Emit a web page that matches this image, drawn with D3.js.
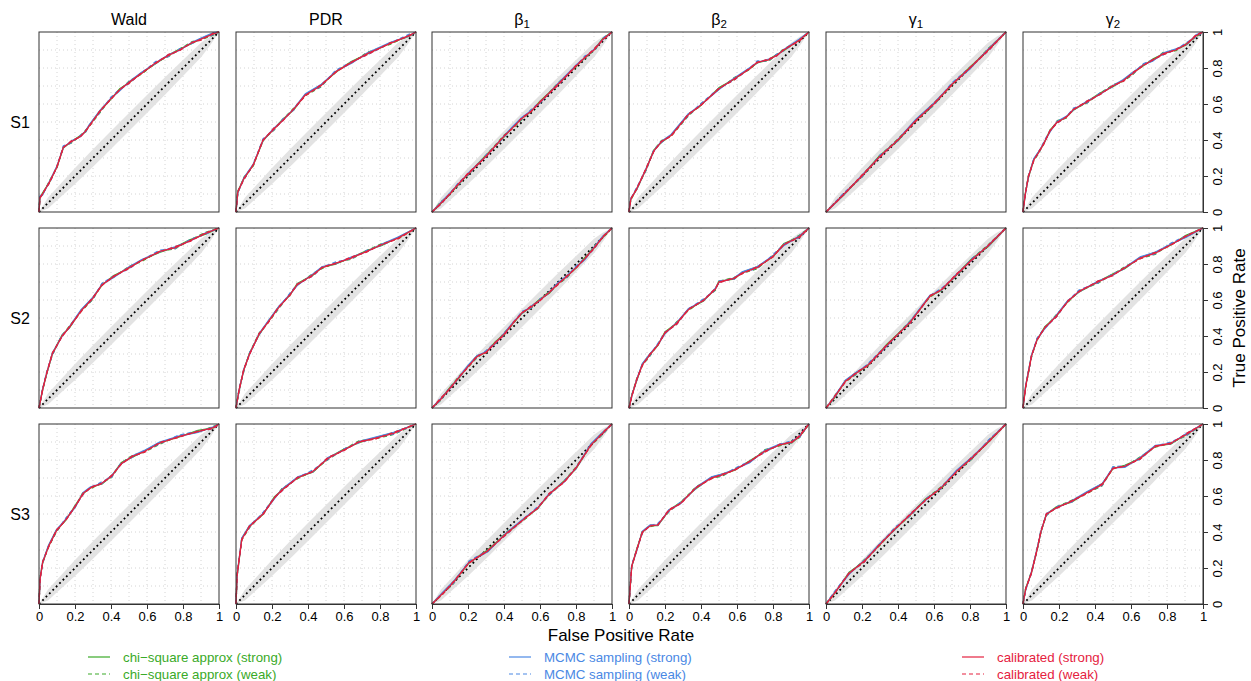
<!DOCTYPE html>
<html><head><meta charset="utf-8">
<script src="https://cdn.jsdelivr.net/npm/d3@7"></script>
<style>
html,body{margin:0;padding:0;background:#fff;}
svg{display:block;font-family:"Liberation Sans",Arial,Helvetica,sans-serif;}
</style></head>
<body>
<svg id="chart" width="1251" height="681"></svg>
<script>
// ---------------- DATA ----------------
const columns = [
  {name:"Wald"}, {name:"PDR"}, {name:"β", sub:"1"}, {name:"β", sub:"2"}, {name:"γ", sub:"1"}, {name:"γ", sub:"2"}
];
const rows = ["S1","S2","S3"];
const tickValues = [0,0.2,0.4,0.6,0.8,1];
const tickLabels = ["0","0.2","0.4","0.6","0.8","1"];
const gridValues = [0.1,0.2,0.3,0.4,0.5,0.6,0.7,0.8,0.9];

// null band (grey) around the diagonal
const bandX  = [0,0.05,0.1,0.2,0.3,0.4,0.5,0.6,0.7,0.8,0.9,0.95,1];
const bandLo = [0,0.02,0.065,0.155,0.252,0.35,0.45,0.55,0.652,0.755,0.86,0.925,1];
const bandHi = [0,0.08,0.135,0.245,0.348,0.45,0.55,0.65,0.748,0.845,0.94,0.975,1];

// ROC curves [FPR, TPR]
const roc_S1_Wald = [[0,0],[0.005,0.08],[0.02,0.1],[0.06,0.17],[0.1,0.25],[0.135,0.36],[0.18,0.39],[0.23,0.42],[0.26,0.45],[0.28,0.48],[0.34,0.56],[0.4,0.63],[0.45,0.68],[0.5,0.72],[0.57,0.77],[0.65,0.83],[0.72,0.87],[0.78,0.90],[0.85,0.94],[0.9,0.96],[0.97,0.99],[1,1]];
const roc_S1_PDR = [[0,0],[0.01,0.11],[0.043,0.185],[0.096,0.26],[0.15,0.40],[0.21,0.46],[0.26,0.51],[0.32,0.57],[0.385,0.65],[0.47,0.70],[0.555,0.78],[0.64,0.83],[0.73,0.88],[0.855,0.935],[0.96,0.98],[1,1]];
const roc_S1_b1 = [[0,0],[0.05,0.05],[0.1,0.1],[0.15,0.16],[0.2,0.21],[0.3,0.31],[0.4,0.42],[0.45,0.47],[0.5,0.52],[0.55,0.56],[0.6,0.61],[0.7,0.71],[0.8,0.81],[0.85,0.86],[0.9,0.9],[0.95,0.96],[1,1]];
const roc_S1_b2 = [[0,0],[0.01,0.07],[0.043,0.13],[0.096,0.24],[0.138,0.34],[0.18,0.39],[0.234,0.425],[0.33,0.54],[0.394,0.59],[0.5,0.685],[0.585,0.74],[0.67,0.795],[0.713,0.833],[0.776,0.845],[0.82,0.87],[0.86,0.9],[0.947,0.955],[1,1]];
const roc_S1_g1 = [[0,0],[0.1,0.1],[0.2,0.2],[0.3,0.31],[0.4,0.4],[0.5,0.51],[0.6,0.6],[0.7,0.71],[0.8,0.8],[0.9,0.9],[1,1]];
const roc_S1_g2 = [[0,0],[0.004,0.03],[0.013,0.10],[0.03,0.195],[0.06,0.29],[0.087,0.33],[0.115,0.38],[0.15,0.45],[0.19,0.50],[0.24,0.525],[0.28,0.57],[0.354,0.61],[0.43,0.657],[0.5,0.70],[0.557,0.73],[0.61,0.77],[0.667,0.815],[0.72,0.843],[0.78,0.88],[0.85,0.9],[0.91,0.935],[0.963,0.98],[1,1]];
const roc_S2_Wald = [[0,0],[0.02,0.10],[0.043,0.195],[0.074,0.30],[0.128,0.40],[0.17,0.45],[0.234,0.54],[0.3,0.61],[0.35,0.685],[0.415,0.73],[0.5,0.78],[0.564,0.815],[0.67,0.87],[0.755,0.89],[0.84,0.93],[0.926,0.97],[1,1]];
const roc_S2_PDR = [[0,0],[0.017,0.10],[0.043,0.21],[0.075,0.30],[0.128,0.41],[0.18,0.48],[0.235,0.555],[0.3,0.63],[0.34,0.685],[0.427,0.74],[0.48,0.78],[0.555,0.805],[0.64,0.833],[0.726,0.87],[0.81,0.907],[0.9,0.944],[1,1]];
const roc_S2_b1 = [[0,0],[0.05,0.05],[0.1,0.11],[0.15,0.17],[0.2,0.23],[0.25,0.285],[0.3,0.31],[0.35,0.36],[0.4,0.41],[0.45,0.47],[0.5,0.53],[0.55,0.56],[0.6,0.6],[0.65,0.64],[0.7,0.69],[0.75,0.73],[0.8,0.78],[0.85,0.83],[0.9,0.89],[0.95,0.95],[1,1]];
const roc_S2_b2 = [[0,0],[0.015,0.065],[0.043,0.157],[0.074,0.24],[0.117,0.296],[0.16,0.35],[0.2,0.417],[0.266,0.472],[0.33,0.546],[0.415,0.60],[0.48,0.66],[0.5,0.70],[0.585,0.72],[0.628,0.75],[0.713,0.78],[0.8,0.843],[0.86,0.907],[0.947,0.953],[1,1]];
const roc_S2_g1 = [[0,0],[0.043,0.055],[0.107,0.148],[0.17,0.194],[0.235,0.24],[0.34,0.35],[0.47,0.48],[0.577,0.62],[0.64,0.657],[0.726,0.74],[0.81,0.824],[0.9,0.9],[1,1]];
const roc_S2_g2 = [[0,0],[0.015,0.12],[0.047,0.287],[0.078,0.38],[0.12,0.444],[0.184,0.51],[0.248,0.59],[0.31,0.648],[0.417,0.70],[0.5,0.74],[0.565,0.778],[0.65,0.833],[0.735,0.86],[0.82,0.907],[0.905,0.953],[1,1]];
const roc_S3_Wald = [[0,0],[0.006,0.14],[0.02,0.23],[0.053,0.32],[0.096,0.405],[0.15,0.47],[0.2,0.54],[0.245,0.615],[0.287,0.645],[0.35,0.672],[0.404,0.71],[0.457,0.78],[0.52,0.82],[0.585,0.847],[0.67,0.893],[0.776,0.93],[0.883,0.958],[0.968,0.98],[1,1]];
const roc_S3_PDR = [[0,0],[0.006,0.157],[0.032,0.36],[0.075,0.43],[0.15,0.50],[0.214,0.59],[0.256,0.635],[0.342,0.70],[0.427,0.737],[0.513,0.81],[0.6,0.856],[0.684,0.90],[0.77,0.92],[0.876,0.948],[1,1]];
const roc_S3_b1 = [[0,0],[0.06,0.06],[0.12,0.12],[0.205,0.23],[0.31,0.295],[0.417,0.396],[0.523,0.48],[0.587,0.534],[0.65,0.608],[0.735,0.68],[0.8,0.755],[0.883,0.884],[0.95,0.95],[1,1]];
const roc_S3_b2 = [[0,0],[0.006,0.083],[0.015,0.21],[0.043,0.30],[0.074,0.40],[0.117,0.433],[0.16,0.44],[0.223,0.52],[0.287,0.56],[0.372,0.645],[0.457,0.70],[0.52,0.717],[0.585,0.745],[0.67,0.79],[0.755,0.85],[0.84,0.884],[0.904,0.90],[0.947,0.93],[1,1]];
const roc_S3_g1 = [[0,0],[0.043,0.055],[0.128,0.17],[0.214,0.24],[0.3,0.33],[0.385,0.42],[0.47,0.497],[0.555,0.58],[0.64,0.645],[0.726,0.737],[0.81,0.81],[0.9,0.9],[1,1]];
const roc_S3_g2 = [[0,0],[0.015,0.083],[0.047,0.175],[0.078,0.30],[0.1,0.405],[0.13,0.497],[0.184,0.534],[0.27,0.57],[0.354,0.617],[0.44,0.663],[0.5,0.755],[0.565,0.764],[0.65,0.81],[0.735,0.875],[0.82,0.893],[0.905,0.94],[1,1]];

const panelData = [
  [roc_S1_Wald, roc_S1_PDR, roc_S1_b1, roc_S1_b2, roc_S1_g1, roc_S1_g2],
  [roc_S2_Wald, roc_S2_PDR, roc_S2_b1, roc_S2_b2, roc_S2_g1, roc_S2_g2],
  [roc_S3_Wald, roc_S3_PDR, roc_S3_b1, roc_S3_b2, roc_S3_g1, roc_S3_g2]
];

// series and their small deviations from the shared curve (TPR offsets)
const seriesNames = ["chi\u2212square approx (strong)","chi\u2212square approx (weak)","MCMC sampling (strong)","MCMC sampling (weak)","calibrated (strong)","calibrated (weak)"];
const seriesOffsets = [
  [0.004,-0.003,0.006,-0.002,0.003,-0.005,0.002,0.005,-0.004,0.003],
  [-0.006,0.005,-0.003,0.007,-0.004,0.002,-0.006,0.004,0.006,-0.003],
  [0.006,0.002,-0.005,0.004,0.006,-0.003,0.005,-0.002,0.003,0.006],
  [-0.004,0.008,0.003,-0.006,0.002,0.007,-0.005,0.006,-0.004,0.002],
  [0,0,0,0,0,0,0,0,0,0],
  [0.005,-0.004,0.003,-0.006,0.004,-0.003,0.006,-0.004,0.003,-0.005]
];

// ---------------- STYLE ----------------
const seriesColor = ["#3aaa28","#3aaa28","#4a88e4","#4a88e4","#e5213e","#e5213e"];
const seriesDash  = [null,"4,3",null,"4,3",null,"4,3"];

const P = 180;              // panel size
const colLeft = [39,236,432,629,826,1023];
const rowTop = [32,228,424];

const svg = d3.select("#chart");
const x = d3.scaleLinear().domain([0,1]).range([0,P]);
const y = d3.scaleLinear().domain([0,1]).range([P,0]);

const line = d3.line().x(d=>x(d[0])).y(d=>y(d[1]));
const area = d3.area().x(d=>x(d.x)).y0(d=>y(d.lo)).y1(d=>y(d.hi));
const bandData = bandX.map((v,i)=>({x:v, lo:bandLo[i], hi:bandHi[i]}));

rows.forEach((rname, ri) => {
  columns.forEach((col, ci) => {
    const g = svg.append("g").attr("transform",`translate(${colLeft[ci]},${rowTop[ri]})`);
    // grid
    g.selectAll("line.gx").data(gridValues).join("line")
      .attr("x1",d=>x(d)).attr("x2",d=>x(d)).attr("y1",0).attr("y2",P)
      .attr("stroke","#cfcfcf").attr("stroke-width",0.9).attr("stroke-dasharray","1,3");
    g.selectAll("line.gy").data(gridValues).join("line")
      .attr("y1",d=>y(d)).attr("y2",d=>y(d)).attr("x1",0).attr("x2",P)
      .attr("stroke","#cfcfcf").attr("stroke-width",0.9).attr("stroke-dasharray","1,3");
    // band
    g.append("path").datum(bandData).attr("d",area).attr("fill","#e3e3e3");
    // diagonal
    g.append("path").datum([[0,0],[1,1]]).attr("d",line)
      .attr("stroke","#000").attr("stroke-width",1.8).attr("stroke-dasharray","1.8,3").attr("fill","none");
    // curves
    const base = panelData[ri][ci];
    seriesNames.forEach((s, si) => {
      const off = seriesOffsets[si];
      const pts = base.map((p,i)=> (p[0]===0||p[0]===1) ? p : [p[0], Math.min(1, p[1] + off[(i + ri*3 + ci) % off.length])]);
      g.append("path").datum(pts).attr("d",line)
        .attr("fill","none").attr("stroke",seriesColor[si]).attr("stroke-width",1.3)
        .attr("stroke-dasharray",seriesDash[si]).attr("stroke-linejoin","round");
    });
    // frame
    g.append("rect").attr("x",0).attr("y",0).attr("width",P).attr("height",P)
      .attr("fill","none").attr("stroke","#333").attr("stroke-width",1);

    // bottom axis on last row
    if (ri === rows.length-1) {
      const ax = d3.axisBottom(x).tickValues(tickValues).tickFormat((d,i)=>tickLabels[i]).tickSize(5).tickPadding(3);
      const a = g.append("g").attr("transform",`translate(0,${P})`).call(ax);
      a.select(".domain").attr("stroke","#333");
      a.selectAll(".tick line").attr("stroke","#333");
      a.selectAll("text").attr("font-size",13).attr("fill","#000").attr("font-family","Liberation Sans, Arial, sans-serif");
    }
    // right axis on last column
    if (ci === columns.length-1) {
      const ay = d3.axisRight(y).tickValues(tickValues).tickFormat((d,i)=>tickLabels[i]).tickSize(5).tickPadding(3);
      const a = g.append("g").attr("transform",`translate(${P},0)`).call(ay);
      a.select(".domain").attr("stroke","#333");
      a.selectAll(".tick line").attr("stroke","#333");
      a.selectAll("text").attr("font-size",13).attr("fill","#000").attr("font-family","Liberation Sans, Arial, sans-serif")
        .attr("x",null).attr("dy",null)
        .attr("text-anchor","middle")
        .attr("transform","translate(14,0) rotate(-90)")
        .attr("dominant-baseline","central");
    }
  });
  // row label
  svg.append("text").attr("x",20).attr("y",rowTop[ri]+P/2+6).attr("text-anchor","middle")
    .attr("font-size",16).text(rname);
});

// column titles
columns.forEach((col, ci) => {
  const t = svg.append("text").attr("x",colLeft[ci]+P/2).attr("y",25).attr("text-anchor","middle").attr("font-size",16);
  t.append("tspan").text(col.name);
  if (col.sub) t.append("tspan").attr("font-size",11.5).attr("dy",3).text(col.sub);
});

// axis titles
svg.append("text").attr("x",621).attr("y",641).attr("text-anchor","middle").attr("font-size",17).text("False Positive Rate");
svg.append("text").attr("transform","translate(1245,318) rotate(-90)").attr("text-anchor","middle").attr("font-size",17).text("True Positive Rate");

// legend
const legendCols = [88, 509, 962];
seriesNames.forEach((s, si) => {
  const cx = legendCols[Math.floor(si/2)];
  const ly = 657 + (si%2)*17;
  svg.append("line").attr("x1",cx).attr("x2",cx+22).attr("y1",ly).attr("y2",ly)
    .attr("stroke",seriesColor[si]).attr("stroke-width",1.2).attr("stroke-dasharray",seriesDash[si]);
  svg.append("text").attr("x",cx+35).attr("y",ly+4.5).attr("font-size",13.3).attr("fill",seriesColor[si]).text(s);
});
</script>
</body></html>
